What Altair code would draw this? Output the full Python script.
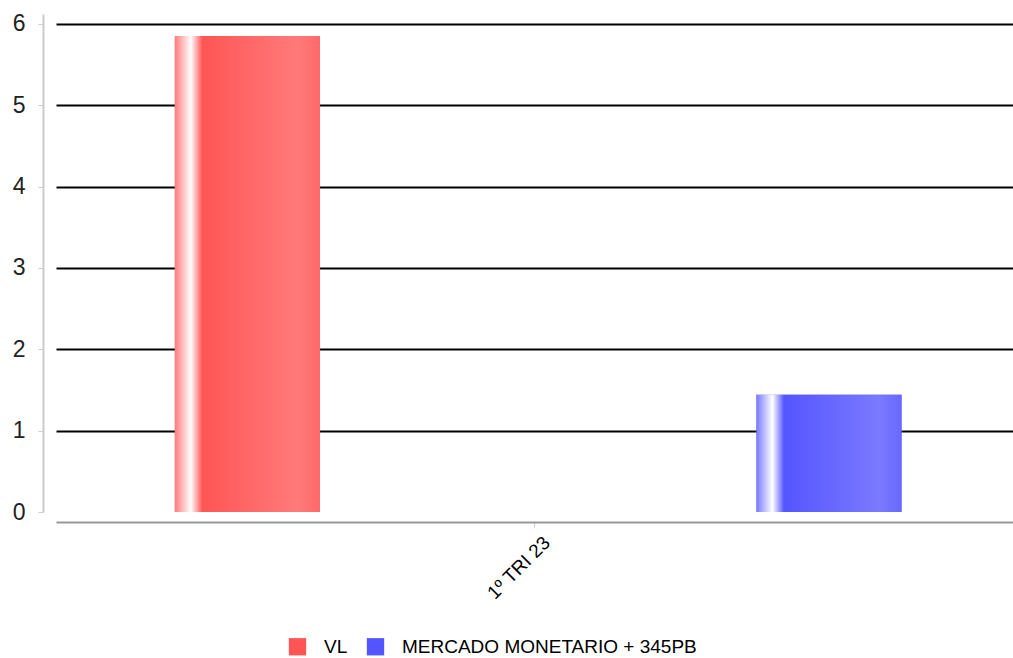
import altair as alt
import pandas as pd

categories = ["1º TRI 23"]
series = ["VL", "MERCADO MONETARIO + 345PB"]
values = [5.85, 1.44]
series_colors = ["#ff5555", "#5555ff"]

df = pd.DataFrame({
    "cat": [categories[0]] * len(series),
    "serie": series,
    "valor": values,
})

FONT = "Liberation Sans"

def grad(light, base, mid, end):
    return alt.Gradient(
        gradient="linear", x1=0, x2=1, y1=0, y2=0,
        stops=[
            alt.GradientStop(color=light, offset=0),
            alt.GradientStop(color="#ffffff", offset=0.11),
            alt.GradientStop(color=base, offset=0.19),
            alt.GradientStop(color=mid, offset=0.85),
            alt.GradientStop(color=end, offset=1),
        ],
    )

gradients = [
    grad("#ff7a7a", "#ff5555", "#ff7a7a", "#ff6868"),
    grad("#7a7aff", "#5555ff", "#7a7aff", "#6868ff"),
]

x_enc = alt.X(
    "cat:N", title=None,
    scale=alt.Scale(paddingInner=0, paddingOuter=0),
    axis=alt.Axis(
        labelAngle=315, labelAlign="right", labelBaseline="top",
        labelFont=FONT, labelFontSize=19, labelColor="#000000",
        domainColor="#999999", domainWidth=2, tickColor="#cccccc",
        tickSize=5, offset=10, labelPadding=6, labelOffset=6,
    ),
)
xoff_enc = alt.XOffset(
    "serie:N", sort=series,
    scale=alt.Scale(paddingInner=0.7506, paddingOuter=0.198, align=0.516),
)
y_enc = alt.Y(
    "valor:Q", title=None,
    scale=alt.Scale(domain=[0, 6.12], nice=False),
    axis=alt.Axis(
        values=[0, 1, 2, 3, 4, 5, 6], format="d",
        labelFont=FONT, labelFontSize=23, labelColor="#222222",
        domainColor="#cccccc", domainWidth=2, tickColor="#cccccc",
        tickSize=5, offset=13, labelPadding=13,
        grid=True, gridColor="#000000", gridWidth=2,
        gridOpacity=alt.condition("datum.value == 0", alt.value(0), alt.value(1)),
    ),
)

base = alt.Chart(df).encode(x=x_enc, xOffset=xoff_enc, y=y_enc)

bars = base.mark_bar().encode(
    color=alt.Color(
        "serie:N", sort=series, title=None,
        scale=alt.Scale(domain=series, range=series_colors),
        legend=alt.Legend(
            orient="none", legendX=232, legendY=623, direction="horizontal",
            symbolType="square", symbolSize=300, symbolStrokeWidth=0,
            labelFont=FONT, labelFontSize=19, labelColor="#000000",
            labelLimit=0, symbolOffset=0, labelOffset=17, columnPadding=18,
        ),
    )
)

layers = [bars]
for s, g in zip(series, gradients):
    layers.append(
        base.transform_filter(alt.datum.serie == s).mark_bar(color=g)
    )

chart = alt.layer(*layers).properties(
    width=957, height=498,
    padding={"left": 56, "top": 14, "right": 0, "bottom": 146},
    autosize=alt.AutoSizeParams(type="none"),
    background="#ffffff",
).configure_view(strokeWidth=0)

chart.save("out.html", embed_options={"renderer": "svg", "actions": False})
